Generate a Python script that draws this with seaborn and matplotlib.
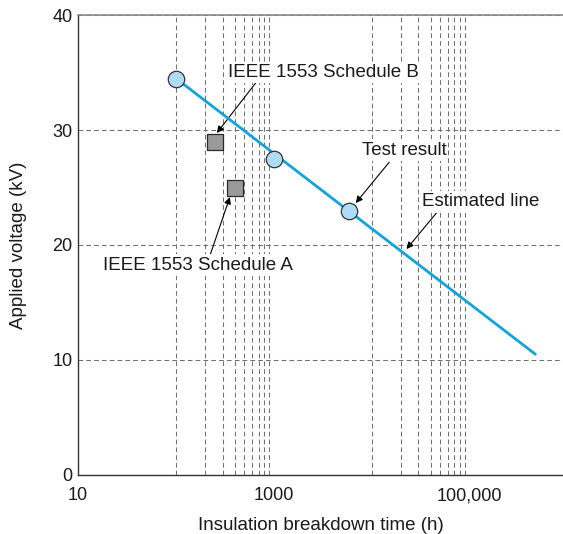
import matplotlib
matplotlib.use("Agg")
import matplotlib.pyplot as plt
import seaborn as sns
import pandas as pd

# ---- data ----
test_hours = [100, 1000, 5800]
test_kv = [34.4, 27.5, 23.0]
line_hours = [100, 470000]
line_kv = [34.5, 10.5]
sched_labels = ["IEEE 1553 Schedule B", "IEEE 1553 Schedule A"]
sched_hours = [250, 400]
sched_kv = [29.0, 25.0]
x_tick_vals = [10, 1000, 100000]
x_tick_labels = ["10", "1000", "100,000"]
y_tick_vals = [0, 10, 20, 30, 40]
x_grid_vals = [100, 200, 300, 400, 500, 600, 700, 800, 900, 1000,
               10000, 20000, 30000, 40000, 50000, 60000, 70000, 80000, 90000, 100000]

sns.set_theme(style="white")
plt.rcParams['font.family'] = ['Liberation Sans', 'DejaVu Sans']

fig = plt.figure(figsize=(5.63, 5.34), dpi=100)
ax = fig.add_axes([0.1385, 0.1105, 0.8615, 0.8614])

line_df = pd.DataFrame({"h": line_hours, "kv": line_kv})
test_df = pd.DataFrame({"h": test_hours, "kv": test_kv})
sched_df = pd.DataFrame({"h": sched_hours, "kv": sched_kv, "s": sched_labels})

sns.lineplot(data=line_df, x="h", y="kv", ax=ax, color="#12a3dc", lw=2.0, zorder=3)
sns.scatterplot(data=test_df, x="h", y="kv", ax=ax, s=140, marker="o",
                color="#aedcf4", edgecolor="#333333", linewidth=0.9, zorder=4)
sns.scatterplot(data=sched_df, x="h", y="kv", ax=ax, s=140, marker="s",
                color="#9a9a9a", edgecolor="#2a2a2a", linewidth=0.9, zorder=4)

ax.set_xscale("log")
ax.set_xlim(10, 9e5)
ax.set_ylim(0, 40)

ax.set_xticks(x_tick_vals)
ax.set_xticklabels(x_tick_labels)
ax.set_xticks(x_grid_vals, minor=True)
ax.set_xticklabels([], minor=True)
ax.set_yticks(y_tick_vals)
ax.tick_params(axis="both", which="both", length=0, labelsize=13, colors="#1a1a1a")
ax.tick_params(axis="x", pad=9)
ax.tick_params(axis="y", pad=4)

ax.grid(False)
ax.grid(True, which="minor", axis="x", color="#707070", linestyle=(0, (4.5, 3)), lw=0.75)
ax.grid(True, which="major", axis="y", color="#707070", linestyle=(0, (4.5, 3)), lw=0.75)
ax.set_axisbelow(True)

for side in ["left", "bottom"]:
    ax.spines[side].set_color("#333333")
    ax.spines[side].set_linewidth(1.0)
ax.spines["top"].set_color("#8a8a8a")
ax.spines["top"].set_linewidth(1.2)
ax.spines["right"].set_visible(False)

ax.set_xlabel("Insulation breakdown time (h)", fontsize=13.5, color="#1a1a1a", labelpad=9)
ax.set_ylabel("Applied voltage (kV)", fontsize=13.5, color="#1a1a1a", labelpad=18)

arrow = dict(arrowstyle="-|>", color="black", lw=0.8, mutation_scale=10, shrinkA=0, shrinkB=0)
fs = 13.5
box = dict(facecolor="white", edgecolor="none", pad=1.5)
ax.annotate("", xy=(262, 29.74), xytext=(655, 34.1), arrowprops=arrow, zorder=2)
ax.text(340, 35.0, sched_labels[0], fontsize=fs, ha="left", va="center", color="#1a1a1a", bbox=box, zorder=2)
ax.annotate("", xy=(356, 24.17), xytext=(222, 19.04), arrowprops=arrow, zorder=2)
ax.text(18, 18.26, sched_labels[1], fontsize=fs, ha="left", va="center", color="#1a1a1a", bbox=box, zorder=2)
ax.annotate("", xy=(6870, 23.65), xytext=(15100, 27.2), arrowprops=arrow, zorder=2)
ax.text(7900, 28.26, "Test result", fontsize=fs, ha="left", va="center", color="#1a1a1a", bbox=box, zorder=2)
ax.annotate("", xy=(22700, 19.65), xytext=(46000, 22.8), arrowprops=arrow, zorder=2)
ax.text(32400, 23.74, "Estimated line", fontsize=fs, ha="left", va="center", color="#1a1a1a", bbox=box, zorder=2)

fig.savefig("out.png", dpi=100)
